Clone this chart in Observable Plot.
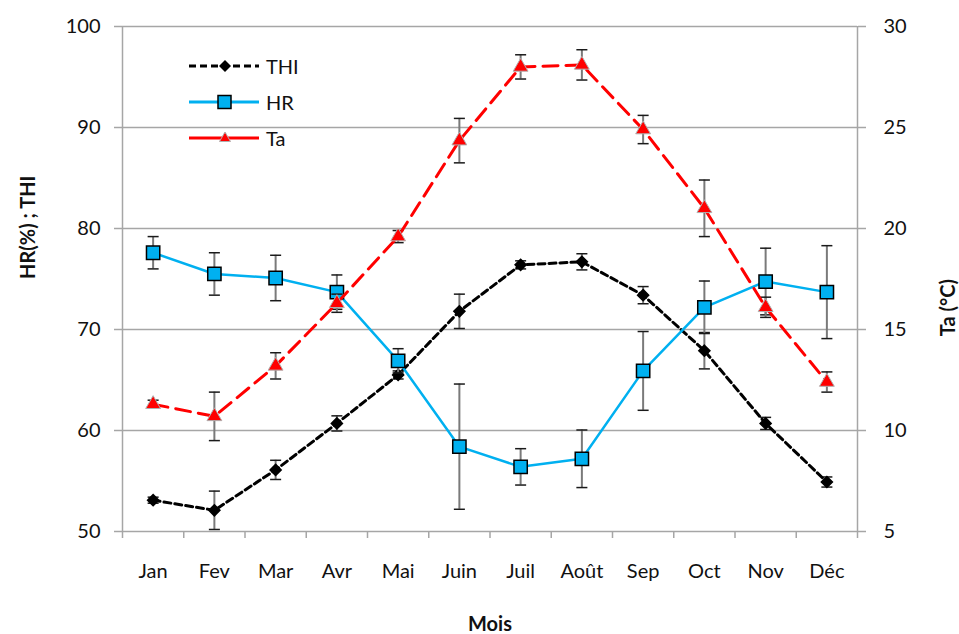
<!DOCTYPE html>
<html><head><meta charset="utf-8">
<script src="https://cdn.jsdelivr.net/npm/d3@7"></script>
<script src="https://cdn.jsdelivr.net/npm/@observablehq/plot@0.6"></script>
<style>
body{margin:0;background:#fff;}
#wrap{position:relative;width:959px;height:634px;font-family:Lato,"Liberation Sans",sans-serif;}
#legend{position:absolute;left:189px;top:48px;font-size:20px;color:#111;}
.item{display:flex;align-items:center;height:36px}
.item svg{margin-right:7px}
</style></head><body><div id="wrap"><div id="legend"></div></div>
<script>
const months = ["Jan","Fev","Mar","Avr","Mai","Juin","Juil","Août","Sep","Oct","Nov","Déc"];
const thi    = [53.1, 52.1, 56.1, 60.7, 65.5, 71.8, 76.4, 76.7, 73.4, 67.9, 60.7, 54.9];
const thiErr = [0.3, 1.9, 0.95, 0.75, 0.4, 1.7, 0.4, 0.8, 0.85, 1.8, 0.6, 0.5];
const hr     = [77.6, 75.5, 75.1, 73.7, 66.9, 58.4, 56.4, 57.2, 65.9, 72.2, 74.75, 73.7];
const hrErr  = [1.6, 2.1, 2.25, 1.7, 1.2, 6.2, 1.8, 2.85, 3.9, 2.6, 3.3, 4.6];
const ta     = [11.3, 10.7, 13.2, 16.3, 19.6, 24.35, 28.0, 28.1, 24.9, 21.0, 16.1, 12.4];
const taErr  = [0.2, 1.2, 0.65, 0.45, 0.3, 1.1, 0.6, 0.75, 0.7, 1.4, 0.5, 0.5];
const leftTicks = [50, 60, 70, 80, 90, 100];

const toLeft = t => 50 + (t - 5) * 2;
const idx = months.map((m, i) => i);
const bounds = d3.range(-0.5, 12, 1);

function series(vals, errs, conv) {
  return vals.map((v, i) => ({i, y: conv(v), lo: conv(v - errs[i]), hi: conv(v + errs[i])}));
}
const S_thi = series(thi, thiErr, v => v);
const S_hr = series(hr, hrErr, v => v);
const S_ta = series(ta, taErr, toLeft);

function errMarks(data) {
  const caps = data.flatMap(d => [{x1: d.i - 0.09, x2: d.i + 0.09, y: d.lo}, {x1: d.i - 0.09, x2: d.i + 0.09, y: d.hi}]);
  return [
    Plot.ruleX(data, {x: "i", y1: "lo", y2: "hi", stroke: "#7a7a7a", strokeWidth: 2}),
    Plot.link(caps, {x1: "x1", x2: "x2", y1: "y", y2: "y", stroke: "#1a1a1a", strokeWidth: 1.5})
  ];
}
const grid = "#a6a6a6";
const font = "Lato, 'Liberation Sans', sans-serif";

const chart = Plot.plot({
  width: 959, height: 634,
  marginLeft: 122, marginRight: 102, marginTop: 26, marginBottom: 103,
  style: {fontFamily: font, fontSize: "20px", color: "#111", background: "white"},
  x: {type: "linear", domain: [-0.5, 11.5]},
  y: {domain: [50, 100]},
  marks: [
    Plot.ruleY(leftTicks, {stroke: grid, strokeWidth: 1.5}),
    Plot.ruleX([-0.5, 11.5], {stroke: grid, strokeWidth: 1.5}),
    Plot.axisY({ticks: leftTicks, tickSize: 8, tickPadding: 14, stroke: grid, strokeWidth: 1.5, label: null, fontSize: 20}),
    Plot.axisY({anchor: "right", ticks: leftTicks, tickSize: 8, tickPadding: 18, stroke: grid, strokeWidth: 1.5, label: null, fontSize: 20, tickFormat: d => (d - 50) / 2 + 5}),
    Plot.axisX({ticks: bounds, tickSize: 7, tickFormat: () => "", stroke: grid, strokeWidth: 1.5, label: null}),
    Plot.axisX({ticks: idx, tickSize: 0, tickPadding: 32, tickFormat: i => months[i], label: null, fontSize: 20}),
    Plot.text(["HR(%) ; THI"], {frameAnchor: "left", rotate: -90, dx: -94, fontWeight: "bold", fontSize: 20}),
    Plot.text(["Ta (°C)"], {frameAnchor: "right", rotate: -90, dx: 91, fontWeight: "bold", fontSize: 20}),
    Plot.text(["Mois"], {frameAnchor: "bottom", dy: 99, fontWeight: "bold", fontSize: 20}),
    // THI
    ...errMarks(S_thi),
    Plot.line(S_thi, {x: "i", y: "y", stroke: "#000", strokeWidth: 3, strokeDasharray: "7,4"}),
    Plot.dot(S_thi, {x: "i", y: "y", symbol: "diamond2", r: 5, fill: "#000", stroke: "#000"}),
    // HR
    ...errMarks(S_hr),
    Plot.line(S_hr, {x: "i", y: "y", stroke: "#00b0f0", strokeWidth: 2.5}),
    Plot.dot(S_hr, {x: "i", y: "y", symbol: "square", r: 7.5, fill: "#00b0f0", stroke: "#000", strokeWidth: 1.5}),
    // Ta
    ...errMarks(S_ta),
    Plot.line(S_ta, {x: "i", y: "y", stroke: "#ff0000", strokeWidth: 3, strokeDasharray: "15,8"}),
    Plot.dot(S_ta, {x: "i", y: "y", symbol: "triangle", r: 5.5, fill: "#ff0000", stroke: "#b0b0b0", strokeWidth: 1})
  ]
});
document.getElementById("wrap").prepend(chart);

const legendItems = [
  {name: "THI", svg: '<line x1="0" y1="10" x2="70" y2="10" stroke="#000" stroke-width="3" stroke-dasharray="7,4"/><path d="M36 4 L42 10 L36 16 L30 10Z" fill="#000"/>'},
  {name: "HR", svg: '<line x1="0" y1="10" x2="70" y2="10" stroke="#00b0f0" stroke-width="3"/><rect x="29" y="3.5" width="13" height="13" fill="#00b0f0" stroke="#000" stroke-width="1.5"/>'},
  {name: "Ta", svg: '<line x1="0" y1="10" x2="70" y2="10" stroke="#ff0000" stroke-width="3"/><path d="M36 4 L41.5 13.5 L30.5 13.5Z" fill="#ff0000" stroke="#b0b0b0"/>'}
];
document.getElementById("legend").innerHTML = legendItems.map(d =>
  `<div class="item"><svg width="70" height="20">${d.svg}</svg><span>${d.name}</span></div>`).join("");
</script></body></html>
